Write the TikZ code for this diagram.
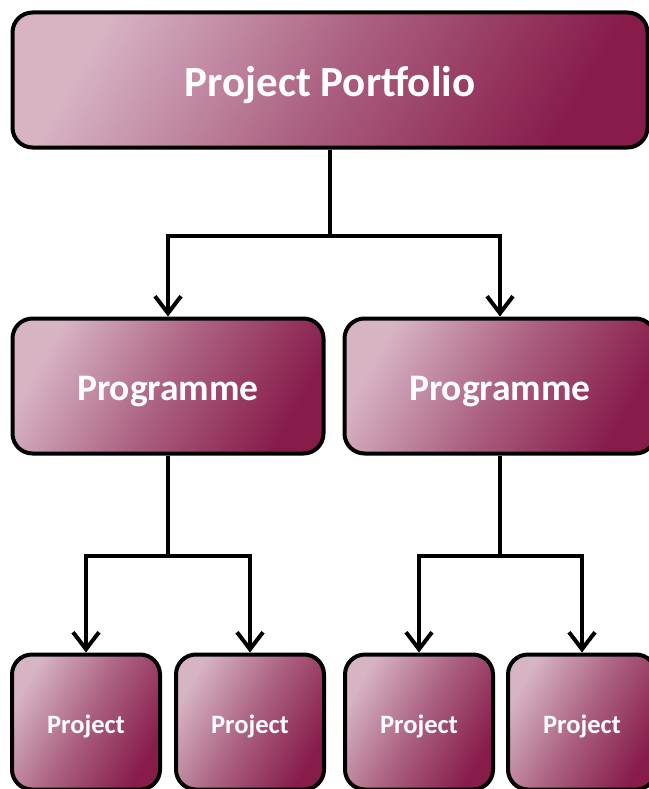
\documentclass[tikz,border=0pt]{standalone}
\usepackage{fontspec}
\setmainfont{Carlito}
\usetikzlibrary{arrows.meta}
\definecolor{pinklt}{RGB}{215,180,196}
\definecolor{wine}{RGB}{135,28,74}
\tikzset{bx/.append style={draw=black, line width=4pt, rounded corners=20pt, font=\bfseries, text=white,
  text depth=0pt, top color=pinklt, bottom color=wine, middle color=wine!55!pinklt, shading angle=60}}
\tikzset{big/.append style={minimum width=635pt, minimum height=135pt, text height=32.7pt, font=\bfseries\fontsize{43}{48}\selectfont}}
\tikzset{mid/.append style={minimum width=311pt, minimum height=135pt, text height=28pt, font=\bfseries\fontsize{37.5}{42}\selectfont}}
\tikzset{sml/.append style={minimum width=148pt, minimum height=135pt, text height=22pt, font=\bfseries\fontsize{26.5}{30}\selectfont}}
\tikzset{ln/.append style={line width=4pt, -{Straight Barb[length=17pt, width=26pt, line width=4pt]}}}

\begin{document}
\begin{tikzpicture}[x=1pt,y=-1pt]
                \useasboundingbox (0,0) rectangle (648,789);
                % boxes
                \node[bx,big] (pf) at (330,80) {Project Portfolio};
                \node[bx,mid] (pg1) at (168,386) {Programme};
                \node[bx,mid] (pg2) at (500,386) {Programme};
                \node[bx,sml] (pj1) at (86,722) {Project};
                \node[bx,sml] (pj2) at (250,722) {Project};
                \node[bx,sml] (pj3) at (419,722) {Project};
                \node[bx,sml] (pj4) at (582,722) {Project};
                % links
                \draw[ln] (pf.south) -- ++(0,86) -| (pg1.north);
                \draw[ln] (pf.south) -- ++(0,86) -| (pg2.north);
                \draw[ln] (pg1.south) -- ++(0,100) -| (pj1.north);
                \draw[ln] (pg1.south) -- ++(0,100) -| (pj2.north);
                \draw[ln] (pg2.south) -- ++(0,100) -| (pj3.north);
                \draw[ln] (pg2.south) -- ++(0,100) -| (pj4.north);
            \end{tikzpicture}
\end{document}
